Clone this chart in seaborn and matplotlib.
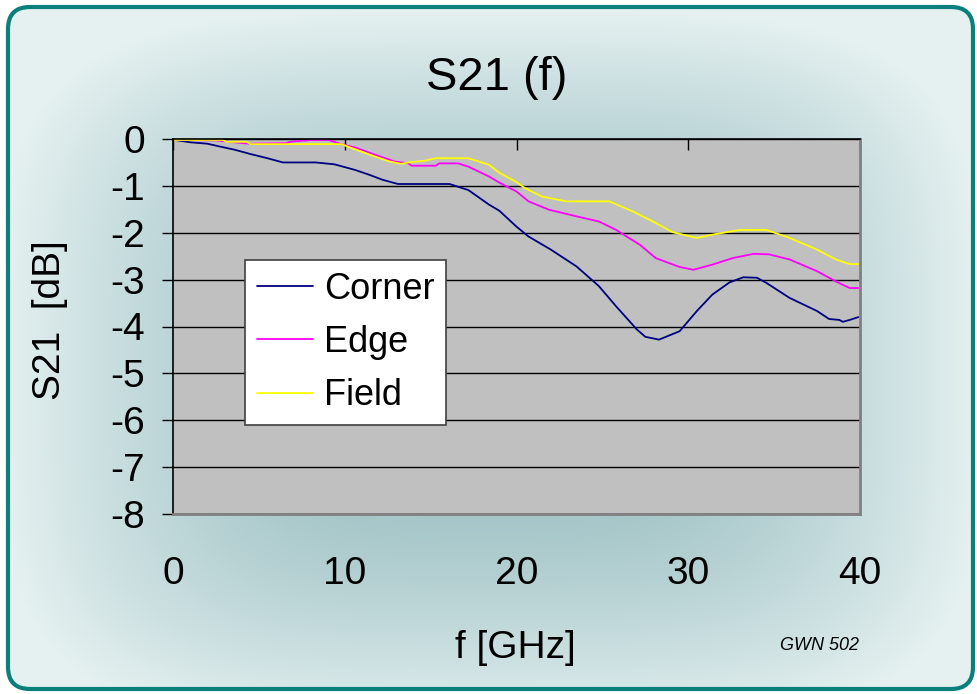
import numpy as np
import pandas as pd
import matplotlib
matplotlib.use('Agg')
import matplotlib.pyplot as plt
from matplotlib.patches import FancyBboxPatch
import seaborn as sns

# S21 readings per port position (f in GHz, S21 in dB)
corner_f = [0.1, 1.0, 2.0, 2.6, 3.6, 4.5, 5.5, 6.4, 8.3, 9.4, 10.6, 11.4, 12.2, 13.1, 16.1, 17.2,
            18.4, 19.0, 20.0, 20.7, 22.0, 23.5, 24.8, 25.8, 27.0, 27.5, 28.3, 29.5, 30.5, 31.4,
            32.4, 33.2, 34.0, 34.55, 35.9, 37.5, 38.2, 38.8, 39.0, 39.4, 39.9]
corner_db = [-0.02, -0.07, -0.1, -0.15, -0.23, -0.32, -0.41, -0.5, -0.5, -0.54, -0.66, -0.76,
             -0.87, -0.96, -0.96, -1.09, -1.40, -1.53, -1.87, -2.08, -2.36, -2.72, -3.14, -3.57,
             -4.06, -4.22, -4.28, -4.1, -3.67, -3.32, -3.06, -2.95, -2.96, -3.07, -3.39, -3.67,
             -3.84, -3.86, -3.9, -3.86, -3.8]

edge_f = [0.1, 2.5, 4.4, 6.6, 6.8, 8.1, 9.05, 9.8, 10.6, 11.8, 12.9, 13.7, 13.9, 15.3, 15.5,
          16.6, 17.2, 18.4, 19.0, 20.0, 20.7, 21.9, 23.5, 24.8, 25.8, 27.2, 28.1, 29.5, 30.3,
          31.4, 32.6, 33.8, 34.7, 35.9, 37.5, 38.6, 39.4, 39.9]
edge_db = [-0.02, -0.03, -0.1, -0.09, -0.06, -0.02, -0.02, -0.11, -0.18, -0.34, -0.48, -0.52,
           -0.57, -0.57, -0.52, -0.52, -0.59, -0.80, -0.93, -1.12, -1.33, -1.51, -1.65, -1.76,
           -1.94, -2.26, -2.54, -2.73, -2.79, -2.68, -2.54, -2.45, -2.46, -2.57, -2.82, -3.04,
           -3.18, -3.18]

field_f = [0.1, 2.9, 3.1, 4.3, 4.5, 9.8, 10.6, 11.8, 12.6, 13.3, 13.7, 14.7, 15.3, 17.2, 18.4,
           19.0, 20.0, 20.5, 21.5, 22.9, 25.4, 26.8, 28.1, 29.1, 30.5, 31.4, 33.0, 34.55, 35.9,
           37.5, 38.6, 39.4, 39.9]
field_db = [-0.02, -0.02, -0.06, -0.06, -0.11, -0.11, -0.22, -0.38, -0.48, -0.53, -0.5, -0.46,
            -0.41, -0.41, -0.55, -0.72, -0.92, -1.05, -1.23, -1.33, -1.33, -1.55, -1.79, -1.99,
            -2.11, -2.04, -1.94, -1.94, -2.11, -2.36, -2.57, -2.67, -2.67]

series = ['Corner', 'Edge', 'Field']
colors = ['#000080', '#ff00ff', '#ffff00']

df = pd.concat([
    pd.DataFrame({'f': corner_f, 'S21': corner_db, 'Pos': 'Corner'}),
    pd.DataFrame({'f': edge_f, 'S21': edge_db, 'Pos': 'Edge'}),
    pd.DataFrame({'f': field_f, 'S21': field_db, 'Pos': 'Field'}),
])

sns.set_style('white')
plt.rcParams['font.family'] = ['Liberation Sans', 'DejaVu Sans']
plt.rcParams['axes.unicode_minus'] = False
plt.rcParams['text.color'] = 'black'
plt.rcParams['xtick.color'] = 'black'
plt.rcParams['ytick.color'] = 'black'

W, H = 978, 694
fig = plt.figure(figsize=(W / 100, H / 100), dpi=100)
fig.patch.set_facecolor('white')

# background: rounded panel with soft gradient
bg = fig.add_axes([0, 0, 1, 1], zorder=-5)
bg.set_xlim(0, W)
bg.set_ylim(H, 0)
bg.axis('off')
yy, xx = np.mgrid[0:H, 0:W]
u = np.abs(xx - 490) / 490
v = np.abs(yy - 370) / 360
t = (u ** 4 + v ** 4) ** 0.25
s = np.clip((t - 0.35) / 0.65, 0, 1) ** 1.3
dark = np.array([0.64, 0.77, 0.78])
light = np.array([0.90, 0.945, 0.945])
img = dark[None, None, :] * (1 - s[..., None]) + light[None, None, :] * s[..., None]
panel = FancyBboxPatch((8, 7), W - 13, H - 12, boxstyle='round,pad=0,rounding_size=22',
                       facecolor='none', edgecolor='#0a7f7c', lw=3)
bg.add_patch(panel)
im = bg.imshow(img, extent=(0, W, H, 0), aspect='auto')
im.set_clip_path(panel)

ax = fig.add_axes([173 / W, 1 - 514 / H, 687 / W, 375 / H])
ax.set_facecolor('#c0c0c0')
sns.lineplot(data=df, x='f', y='S21', hue='Pos', palette=colors, estimator=None,
             sort=False, lw=1.3, ax=ax, legend=False)

ax.set_xlim(0, 40)
ax.set_ylim(-8, 0)
ax.set_xticks([0, 10, 20, 30, 40])
ax.set_yticks(range(-8, 1))
ax.set_xlabel('')
ax.set_ylabel('')
ax.set_axisbelow(True)
ax.yaxis.grid(True, color='black', lw=1)
ax.xaxis.grid(False)

ax.tick_params(axis='x', top=True, bottom=False, labeltop=False, labelbottom=True,
               direction='in', length=8, width=1, color='black', pad=30, labelsize=28)
ax.tick_params(axis='y', left=True, direction='out', length=8, width=1, color='black',
               pad=12, labelsize=28)

for side in ['left', 'top']:
    ax.spines[side].set_color('black')
    ax.spines[side].set_linewidth(1.2)
for side in ['right', 'bottom']:
    ax.spines[side].set_color('#808080')
    ax.spines[side].set_linewidth(2)

handles = [plt.Line2D([], [], color=c, lw=1.3) for c in colors]
leg = ax.legend(handles, series, loc='upper left', bbox_to_anchor=(0.105, 0.677),
                fontsize=26, frameon=True, fancybox=False, edgecolor='#404040',
                framealpha=1, handlelength=1.55, handletextpad=0.3, labelspacing=0.5,
                borderpad=0.33, borderaxespad=0)
leg.get_frame().set_linewidth(1.2)

fig.text(497 / W, 1 - 78 / H, 'S21 (f)', ha='center', va='center', fontsize=34)
fig.text(515 / W, 1 - 648 / H, 'f [GHz]', ha='center', va='center', fontsize=28)
fig.text(50 / W, 1 - 320 / H, 'S21  [dB]', ha='center', va='center', rotation=90, fontsize=28)
fig.text(819 / W, 1 - 645 / H, 'GWN 502', ha='center', va='center', fontsize=13,
         style='italic')

fig.savefig('out.png', dpi=100)
